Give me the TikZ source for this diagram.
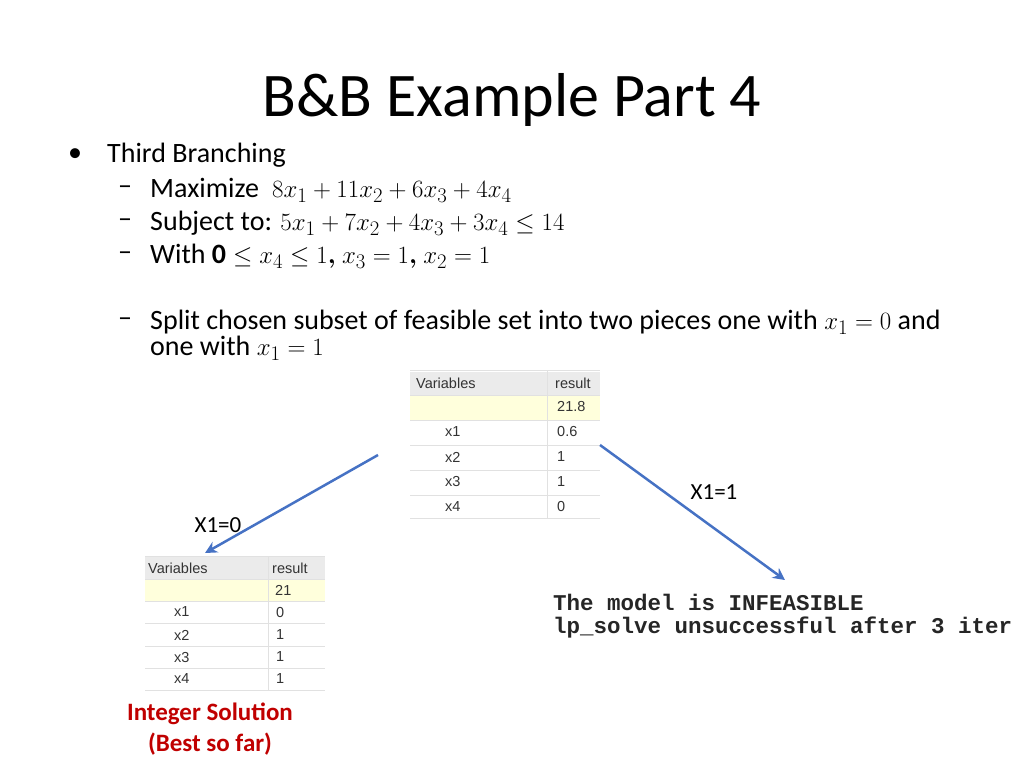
\documentclass[tikz,border=0pt]{standalone}
\usetikzlibrary{arrows.meta}
\usepackage{fontspec}
\usepackage{amsmath}
\setmainfont{Carlito}
\newfontfamily\tabfont{Liberation Sans}
\newfontfamily\monofont{Liberation Mono}
\definecolor{arrowblue}{RGB}{70,114,196}
\definecolor{solred}{RGB}{192,0,0}
\definecolor{rowyellow}{RGB}{255,255,220}
\definecolor{gridgray}{RGB}{225,225,225}
\begin{document}
\begin{tikzpicture}[x=1pt,y=-1pt,
  txt/.style={anchor=west,inner sep=0pt,font=\fontsize{28}{32}\selectfont},
  cell/.style={anchor=west,inner sep=0pt,font=\tabfont\fontsize{14.5}{16}\selectfont,text=black!80},
  arr/.style={draw=arrowblue,line width=2.5pt,-{Stealth[length=12pt,width=12pt]}},
  lbl/.style={inner sep=0pt,font=\fontsize{23}{26}\selectfont}]
\useasboundingbox (0,0) rectangle (1024,768);
\node[inner sep=0pt,font=\fontsize{62}{70}\selectfont] (title) at (512,100) {B\&B Example Part 4};
\node[txt] (b1) at (68,155) {•};
\node[txt] (t1) at (107,155) {Third Branching};
\node[txt] (d1) at (118,190) {–};
\node[txt] (t2) at (150,190) {Maximize $\;8x_1+11x_2+6x_3+4x_4$};
\node[txt] (d2) at (118,223) {–};
\node[txt] (t3) at (150,223) {Subject to: $5x_1+7x_2+4x_3+3x_4\le 14$};
\node[txt] (d3) at (118,256) {–};
\node[txt] (t4) at (150,256) {With $\mathbf{0}\le x_4\le 1\boldsymbol{,}\ x_3=1\boldsymbol{,}\ x_2=1$};
\node[txt] (d4) at (118,322) {–};
\node[txt] (t5) at (150,322) {Split chosen subset of feasible set into two pieces one with $x_1=0$ and};
\node[txt] (t6) at (150,348) {one with $x_1=1$};
% table 1
\fill[rowyellow] (410,395) rectangle (600,420);
\fill[black!8] (410,372) rectangle (600,395);
\foreach \y in {370,395,420,445,470,495,518} \draw[gridgray] (410,\y) -- (600,\y);
\draw[gridgray] (547,370) -- (547,518);
\node[cell] (h1) at (416,383) {Variables};
\node[cell] (h2) at (555,383) {result};
\node[cell] (v0) at (557,407) {21.8};
\node[cell] (a1) at (445,432) {x1}; \node[cell] (r1) at (557,432) {0.6};
\node[cell] (a2) at (445,457) {x2}; \node[cell] (r2) at (557,457) {1};
\node[cell] (a3) at (445,482) {x3}; \node[cell] (r3) at (557,482) {1};
\node[cell] (a4) at (445,507) {x4}; \node[cell] (r4) at (557,507) {0};
% table 2
\fill[rowyellow] (145,579) rectangle (325,601);
\fill[black!8] (145,557) rectangle (325,579);
\foreach \y in {556,579,601,623,646,668,690} \draw[gridgray] (145,\y) -- (325,\y);
\draw[gridgray] (268,556) -- (268,690);
\node[cell] (g1) at (148,568) {Variables};
\node[cell] (g2) at (272,568) {result};
\node[cell] (w0) at (275,590) {21};
\node[cell] (b1a) at (174,612) {x1}; \node[cell] (s1) at (276,612) {0};
\node[cell] (b2a) at (174,635) {x2}; \node[cell] (s2) at (276,635) {1};
\node[cell] (b3a) at (174,657) {x3}; \node[cell] (s3) at (276,657) {1};
\node[cell] (b4a) at (174,679) {x4}; \node[cell] (s4) at (276,679) {1};
% infeasible text
\node[anchor=west,inner sep=0pt,font=\monofont\bfseries\fontsize{22.5}{26}\selectfont,text=black!85] (inf1) at (553,602) {The model is INFEASIBLE};
\node[anchor=west,inner sep=0pt,font=\monofont\bfseries\fontsize{22.5}{26}\selectfont,text=black!85] (inf2) at (553,628) {lp\_solve unsuccessful after 3 iter};
% arrows
\coordinate (s0) at (378,455);
\coordinate (e0) at (205,553);
\coordinate (s1c) at (600,445);
\coordinate (e1) at (785,580);
\draw[arr] (s0) -- (e0);
\draw[arr] (s1c) -- (e1);
\node[lbl] (l0) at (218,525) {X1=0};
\node[lbl] (l1) at (714,492) {X1=1};
\node[lbl,font=\bfseries\fontsize{25}{28}\selectfont,text=solred] (sol1) at (210,714) {Integer Solution};
\node[lbl,font=\bfseries\fontsize{25}{28}\selectfont,text=solred] (sol2) at (210,744) {(Best so far)};
\end{tikzpicture}
\end{document}
